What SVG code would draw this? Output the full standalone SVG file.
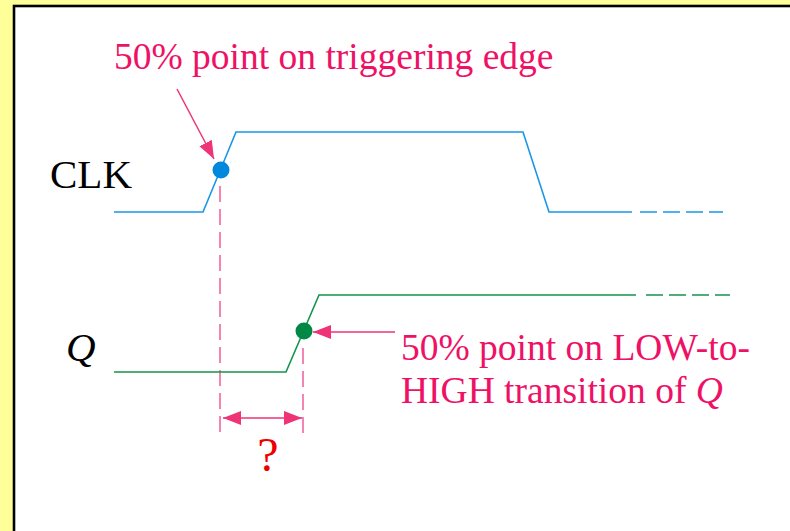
<svg xmlns="http://www.w3.org/2000/svg" width="790" height="531" viewBox="0 0 790 531">
<defs>
<style>
.t{font-family:"Liberation Serif","Times New Roman",serif;}
.pink{fill:#ee1166;}
.clk{fill:none;stroke:#1a96e8;stroke-width:1.6;}
.q{fill:none;stroke:#13944c;stroke-width:1.6;}
.guide{fill:none;stroke:#ee4488;stroke-width:1.3;stroke-dasharray:16 7;}
.ptr{fill:none;stroke:#ee3377;stroke-width:1.5;}
</style>
<marker id="ah" viewBox="0 0 18 14" refX="18" refY="7" markerWidth="18" markerHeight="14" markerUnits="userSpaceOnUse" orient="auto-start-reverse">
<path d="M0,0 L18,7 L0,14 Z" fill="#ee3377"/>
</marker>
</defs>
<rect x="0" y="0" width="790" height="531" fill="#ffff99"/>
<rect x="14" y="6" width="790" height="540" fill="#ffffff" stroke="#000000" stroke-width="2.6"/>

<g id="connectors">
<line class="ptr" x1="177" y1="89" x2="214" y2="159" marker-end="url(#ah)"/>
<line class="ptr" x1="395" y1="332" x2="313" y2="332" marker-end="url(#ah)"/>
<line class="ptr" x1="223" y1="418" x2="302" y2="418" marker-start="url(#ah)" marker-end="url(#ah)"/>
<line class="guide" x1="220" y1="186" x2="220" y2="438"/>
<line class="guide" x1="303" y1="348" x2="303" y2="438"/>
</g>

<g id="clk-wave">
<polyline class="clk" points="114,212 203,212 236,132 523,132 549,212 632,212"/>
<line class="clk" x1="640" y1="212" x2="723" y2="212" stroke-dasharray="17 6"/>
<circle cx="221" cy="170" r="8.5" fill="#0088dd"/>
</g>

<g id="q-wave">
<polyline class="q" points="114,372 286,372 319,295 636,295"/>
<line class="q" x1="646" y1="295" x2="730" y2="295" stroke-dasharray="17 6"/>
<circle cx="304" cy="331" r="8.5" fill="#008844"/>
</g>

<g id="label-clk"><text class="t" x="50" y="188" font-size="41" fill="#000">CLK</text></g>
<g id="label-q"><text class="t" x="66" y="361" font-size="41" font-style="italic" fill="#000">Q</text></g>
<g id="label-edge"><text class="t pink" x="114" y="69" font-size="37.5">50% point on triggering edge</text></g>
<g id="label-transition"><text class="t pink" x="401" y="360" font-size="37.5"><tspan x="401" y="360">50% point on LOW-to-</tspan><tspan x="401" y="403">HIGH transition of <tspan font-style="italic">Q</tspan></tspan></text></g>
<g id="label-q-mark"><text class="t" x="268" y="471" font-size="48" fill="#ee0000" text-anchor="middle">?</text></g>
</svg>
